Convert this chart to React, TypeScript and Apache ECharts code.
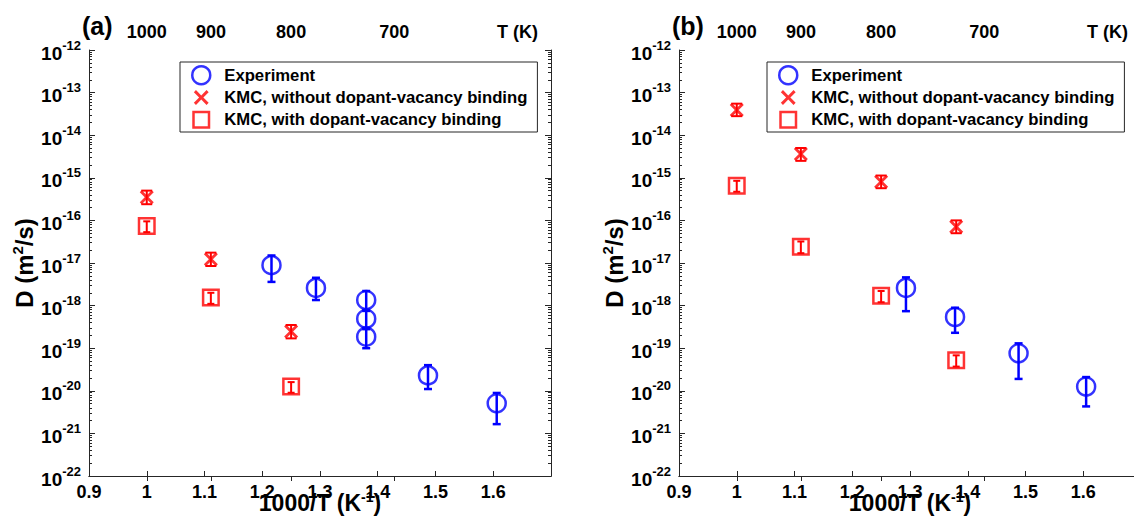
import React, { useEffect, useRef } from "react";
import * as echarts from "echarts";

const FONT = "'Liberation Sans', Arial, Helvetica, sans-serif";
const AXIS_COLOR = "#262626";
const BLUE = "#0000ff";
const RED = "#ff0000";

const X_MIN = 0.9;
const X_MAX = 1.7;
const Y_MIN = 1e-22;
const Y_MAX = 1e-12;
const temperatureTicksK = [1000, 900, 800, 700];
const tempAxisTitlePos = 1.642;
const decadeExponents = [-22, -21, -20, -19, -18, -17, -16, -15, -14, -13, -12];
const minorMultipliers = [2, 3, 4, 5, 6, 7, 8, 9];

const NAME_EXP = "Experiment";
const NAME_NOBIND = "KMC, without dopant-vacancy binding";
const NAME_BIND = "KMC, with dopant-vacancy binding";

// ---------- Panel (a) ----------
const expAX = [1.216, 1.293, 1.38, 1.38, 1.38, 1.487, 1.606];
const expAD = [8.9e-18, 2.6e-18, 1.35e-18, 4.9e-19, 1.86e-19, 2.3e-20, 5.1e-21];
const expALo = [3.6e-18, 1.35e-18, 8.0e-19, 2.8e-19, 1.0e-19, 1.1e-20, 1.65e-21];
const expAHi = [1.5e-17, 4.5e-18, 2.2e-18, 7.5e-19, 3.0e-19, 4.0e-20, 8.9e-21];

const kmcAX = [1.0, 1.111, 1.25];
const noBindAD = [3.5e-16, 1.23e-17, 2.45e-19];
const noBindALo = [2.4e-16, 8.5e-18, 1.7e-19];
const noBindAHi = [5.0e-16, 1.75e-17, 3.5e-19];
const bindAD = [7.4e-17, 1.55e-18, 1.26e-20];
const bindALo = [5.3e-17, 1.1e-18, 9.0e-21];
const bindAHi = [9.5e-17, 2.0e-18, 1.6e-20];

// ---------- Panel (b) ----------
const expBX = [1.293, 1.378, 1.488, 1.605];
const expBD = [2.6e-18, 5.4e-19, 7.6e-20, 1.26e-20];
const expBLo = [7.4e-19, 2.3e-19, 1.9e-20, 4.3e-21];
const expBHi = [4.6e-18, 8.9e-19, 1.3e-19, 2.1e-20];

const kmcBX = [1.0, 1.111, 1.25, 1.38];
const noBindBD = [3.9e-14, 3.6e-15, 8.1e-16, 7.1e-17];
const noBindBLo = [2.8e-14, 2.5e-15, 5.7e-16, 5.0e-17];
const noBindBHi = [5.5e-14, 5.0e-15, 1.13e-15, 1.0e-16];
const bindBD = [6.5e-16, 2.4e-17, 1.7e-18, 5.2e-20];
const bindBLo = [4.7e-16, 1.7e-17, 1.2e-18, 3.7e-20];
const bindBHi = [8.5e-16, 3.2e-17, 2.2e-18, 6.8e-20];

const X_SYMBOL = "path://M2,0L7,5L12,0L14,2L9,7L14,12L12,14L7,9L2,14L0,12L5,7L0,2Z";
const X_LEGEND = "path://M-1.5,-1.5L-1.5,-1.5ZM15.5,15.5L15.5,15.5ZM2,0L7,5L12,0L14,2L9,7L14,12L12,14L7,9L2,14L0,12L5,7L0,2Z";
const SQ_LEGEND = "path://M-1.25,-1.25L-1.25,-1.25ZM16.75,16.75L16.75,16.75ZM0,0L15.5,0L15.5,15.5L0,15.5Z";

const decadeValues = decadeExponents.map((e) => Math.pow(10, e));
const minorValues: number[] = [];
decadeExponents.slice(0, -1).forEach((e) => {
  minorMultipliers.forEach((m) => minorValues.push(m * Math.pow(10, e)));
});
const tempTickValues = temperatureTicksK.map((t) => 1000 / t);

function errorSeries(name: string, xs: number[], lo: number[], hi: number[], color: string, capW: number, lw: number, g: number) {
  return {
    type: "custom",
    name,
    xAxisIndex: 2 * g,
    yAxisIndex: 4 * g,
    silent: true,
    z: 2,
    encode: { x: 0, y: [1, 2] },
    data: xs.map((x, i) => [x, lo[i], hi[i]]),
    renderItem: (params: any, api: any) => {
      const x = api.value(0);
      const pLo = api.coord([x, api.value(1)]);
      const pHi = api.coord([x, api.value(2)]);
      const style = { stroke: color, lineWidth: lw, fill: "none" };
      return {
        type: "group",
        children: [
          { type: "line", shape: { x1: pLo[0], y1: pLo[1], x2: pHi[0], y2: pHi[1] }, style },
          { type: "line", shape: { x1: pLo[0] - capW / 2, y1: pLo[1], x2: pLo[0] + capW / 2, y2: pLo[1] }, style },
          { type: "line", shape: { x1: pHi[0] - capW / 2, y1: pHi[1], x2: pHi[0] + capW / 2, y2: pHi[1] }, style },
        ],
      };
    },
  };
}

function panelSeries(g: number, d: any) {
  return [
    errorSeries("Experiment error", d.expX, d.expLo, d.expHi, BLUE, 8, 2.5, g),
    errorSeries("KMC no binding error", d.kmcX, d.noLo, d.noHi, RED, 11, 2, g),
    errorSeries("KMC binding error", d.kmcX, d.bLo, d.bHi, RED, 7, 2, g),
    {
      type: "scatter",
      name: NAME_EXP,
      xAxisIndex: 2 * g,
      yAxisIndex: 4 * g,
      symbol: "circle",
      symbolSize: 18,
      z: 3,
      itemStyle: { color: "rgba(0,0,0,0)", borderColor: BLUE, borderWidth: 2.5 },
      data: d.expX.map((x: number, i: number) => [x, d.expD[i]]),
    },
    {
      type: "scatter",
      name: NAME_NOBIND,
      xAxisIndex: 2 * g,
      yAxisIndex: 4 * g,
      symbol: X_SYMBOL,
      symbolSize: 14,
      z: 3,
      itemStyle: { color: RED },
      data: d.kmcX.map((x: number, i: number) => [x, d.noD[i]]),
    },
    {
      type: "scatter",
      name: NAME_BIND,
      xAxisIndex: 2 * g,
      yAxisIndex: 4 * g,
      symbol: "rect",
      symbolSize: 15.5,
      z: 3,
      itemStyle: { color: "rgba(0,0,0,0)", borderColor: RED, borderWidth: 2.5 },
      data: d.kmcX.map((x: number, i: number) => [x, d.bD[i]]),
    },
  ];
}

function xAxes(g: number) {
  return [
    {
      type: "value",
      gridIndex: g,
      position: "bottom",
      min: X_MIN,
      max: X_MAX,
      interval: 0.1,
      name: "{n|1000/T (K}{s|-1}{n|)}",
      nameLocation: "middle",
      nameGap: 14,
      nameMoveOverlap: false,
      nameTextStyle: {
        rich: {
          n: { fontSize: 23, fontWeight: "bold", color: "#000", fontFamily: FONT },
          s: { fontSize: 14, fontWeight: "bold", color: "#000", fontFamily: FONT, padding: [0, 0, 12, 0] },
        },
      },
      axisLine: { lineStyle: { color: AXIS_COLOR, width: 1 } },
      axisTick: { inside: true, length: 5, lineStyle: { color: AXIS_COLOR } },
      axisLabel: {
        margin: 7,
        fontSize: 18,
        fontWeight: "bold",
        color: "#000",
        fontFamily: FONT,
        formatter: (v: number) => (v > 1.65 ? "" : String(Math.round(v * 10) / 10)),
      },
      splitLine: { show: false },
    },
    {
      type: "value",
      gridIndex: g,
      position: "top",
      min: X_MIN,
      max: X_MAX,
      axisLine: { lineStyle: { color: AXIS_COLOR, width: 1 } },
      axisTick: { inside: true, length: 5, customValues: tempTickValues, lineStyle: { color: AXIS_COLOR } },
      axisLabel: {
        margin: 9,
        fontSize: 18,
        fontWeight: "bold",
        color: "#000",
        fontFamily: FONT,
        customValues: [...tempTickValues, tempAxisTitlePos],
        formatter: (v: number) => (v > 1.6 ? "T (K)" : String(Math.round(1000 / v))),
      },
      splitLine: { show: false },
    },
  ];
}

function yAxes(g: number) {
  const base = {
    type: "log",
    gridIndex: g,
    min: Y_MIN,
    max: Y_MAX,
    logBase: 10,
    splitLine: { show: false },
    minorTick: { show: false },
  };
  return [
    {
      ...base,
      position: "left",
      name: "{n|D (m}{s|2}{n|/s)}",
      nameLocation: "middle",
      nameRotate: 90,
      nameGap: 50,
      nameMoveOverlap: false,
      nameTextStyle: {
        rich: {
          n: { fontSize: 24, fontWeight: "bold", color: "#000", fontFamily: FONT },
          s: { fontSize: 15, fontWeight: "bold", color: "#000", fontFamily: FONT, padding: [0, 0, 14, 0] },
        },
      },
      axisLine: { show: true, lineStyle: { color: AXIS_COLOR, width: 1 } },
      axisTick: { inside: true, length: 6, customValues: decadeValues, lineStyle: { color: AXIS_COLOR } },
      axisLabel: {
        margin: 8,
        customValues: decadeValues,
        formatter: (v: number) => `{b|10}{s|${Math.round(Math.log10(v))}}`,
        rich: {
          b: { fontSize: 19, fontWeight: "bold", color: "#000", fontFamily: FONT, padding: [6, 0, 0, 0] },
          s: { fontSize: 13, fontWeight: "bold", color: "#000", fontFamily: FONT, padding: [0, 0, 10, 0] },
        },
      },
    },
    {
      ...base,
      position: "left",
      axisLine: { show: false },
      axisTick: { inside: true, length: 3, customValues: minorValues, lineStyle: { color: AXIS_COLOR } },
      axisLabel: { show: false },
    },
    {
      ...base,
      position: "right",
      axisLine: { show: true, lineStyle: { color: AXIS_COLOR, width: 1 } },
      axisTick: { inside: true, length: 6, customValues: decadeValues, lineStyle: { color: AXIS_COLOR } },
      axisLabel: { show: false },
    },
    {
      ...base,
      position: "right",
      axisLine: { show: false },
      axisTick: { inside: true, length: 3, customValues: minorValues, lineStyle: { color: AXIS_COLOR } },
      axisLabel: { show: false },
    },
  ];
}

function legendFor(left: number) {
  return {
    orient: "vertical",
    left,
    top: 62,
    padding: [3, 10, 2, 11],
    itemWidth: 24,
    itemHeight: 18,
    itemGap: 3,
    borderColor: AXIS_COLOR,
    borderWidth: 1,
    backgroundColor: "#fff",
    selectedMode: false,
    textStyle: { fontSize: 16.7, fontWeight: "bold", color: "#000", fontFamily: FONT, padding: [0, 0, 0, 6] },
    data: [
      { name: NAME_EXP, icon: "circle", itemStyle: { borderWidth: 2.5 } },
      { name: NAME_NOBIND, icon: X_LEGEND, itemStyle: { borderWidth: 0 } },
      { name: NAME_BIND, icon: SQ_LEGEND, itemStyle: { borderWidth: 2.5 } },
    ],
  };
}

export default function App() {
  const ref = useRef<HTMLDivElement>(null);
  useEffect(() => {
    if (!ref.current) return;
    const chart = echarts.init(ref.current, undefined, { renderer: "svg" });
    const panelA = {
      expX: expAX, expD: expAD, expLo: expALo, expHi: expAHi,
      kmcX: kmcAX, noD: noBindAD, noLo: noBindALo, noHi: noBindAHi,
      bD: bindAD, bLo: bindALo, bHi: bindAHi,
    };
    const panelB = {
      expX: expBX, expD: expBD, expLo: expBLo, expHi: expBHi,
      kmcX: kmcBX, noD: noBindBD, noLo: noBindBLo, noHi: noBindBHi,
      bD: bindBD, bLo: bindBLo, bHi: bindBHi,
    };
    chart.setOption({
      animation: false,
      backgroundColor: "#fff",
      textStyle: { fontFamily: FONT },
      title: [
        { text: "(a)", left: 82, top: 13, padding: 0, textStyle: { fontSize: 25, fontWeight: "bold", color: "#000", fontFamily: FONT } },
        { text: "(b)", left: 672, top: 13, padding: 0, textStyle: { fontSize: 25, fontWeight: "bold", color: "#000", fontFamily: FONT } },
      ],
      grid: [
        { left: 89, top: 50, width: 462, height: 426, outerBoundsMode: "none", containLabel: false },
        { left: 679, top: 50, width: 462, height: 426, outerBoundsMode: "none", containLabel: false },
      ],
      xAxis: [...xAxes(0), ...xAxes(1)],
      yAxis: [...yAxes(0), ...yAxes(1)],
      legend: [legendFor(180), legendFor(767)],
      series: [...panelSeries(0, panelA), ...panelSeries(1, panelB)],
    });
    return () => chart.dispose();
  }, []);
  return (
    <div
      ref={ref}
      style={{ position: "absolute", left: 0, top: 0, width: 1134, height: 520, background: "#fff" }}
    />
  );
}
